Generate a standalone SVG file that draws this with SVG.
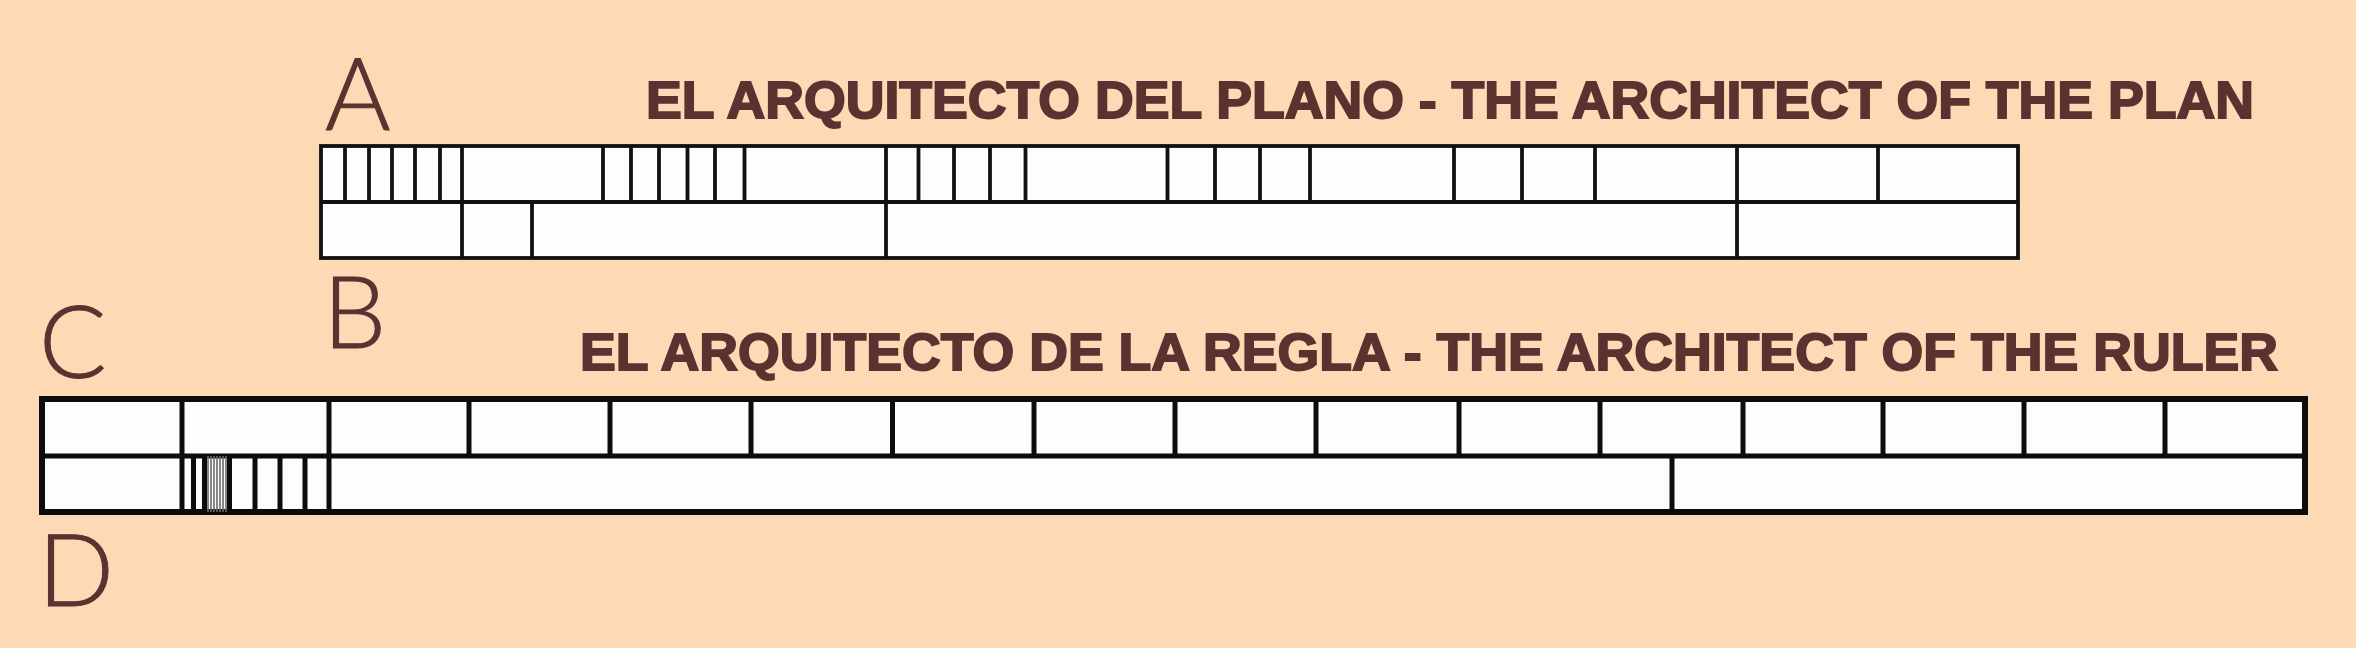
<svg xmlns="http://www.w3.org/2000/svg" width="2356" height="648" viewBox="0 0 2356 648">
<style>
.bg{fill:#FDD9B5}
.box{fill:#FDFDFD;stroke:#111;stroke-width:3.8}
.box2{fill:#FDFDFD;stroke:#0c0c0c;stroke-width:6}
.t{stroke:#111;stroke-width:3.8}
.b{stroke:#0c0c0c;stroke-width:5}
.g{stroke:#6a6a6a;stroke-width:1.6}
.title{font-family:"Liberation Sans",Arial,sans-serif;font-weight:bold;font-size:51px;fill:#5E3131;stroke:#5E3131;stroke-width:1.8}
.letter{font-family:Lato,"DejaVu Sans",sans-serif;font-weight:300;font-size:100px;fill:#5E3131;stroke:#5E3131;stroke-width:1}
</style>
<rect class="bg" x="0" y="0" width="2356" height="648"/>

<g id="title-plan"><text class="title" x="646" y="118" textLength="1608" lengthAdjust="spacingAndGlyphs">EL ARQUITECTO DEL PLANO - THE ARCHITECT OF THE PLAN</text></g>
<g id="title-ruler"><text class="title" x="580" y="370" textLength="1698" lengthAdjust="spacingAndGlyphs">EL ARQUITECTO DE LA REGLA - THE ARCHITECT OF THE RULER</text></g>

<g id="label-A"><text class="letter" x="325" y="130">A</text></g>
<g id="label-B"><text class="letter" x="323" y="348">B</text></g>
<g id="label-C"><text class="letter" x="39" y="378">C</text></g>
<g id="label-D"><text class="letter" x="38" y="606">D</text></g>

<g id="ruler-plan">
<rect class="box" x="321" y="146" width="1697" height="112"/>
<line class="t" x1="321" y1="202" x2="2018" y2="202"/>
<g id="plan-top-row">
<path class="t" d="M345 146V202M369 146V202M392 146V202M415 146V202M440 146V202M462 146V202
M603 146V202M631 146V202M659 146V202M687.5 146V202M715 146V202M744.5 146V202
M886 146V202M918.5 146V202M954 146V202M990 146V202M1025.5 146V202
M1167.5 146V202M1215 146V202M1260 146V202M1310 146V202
M1454 146V202M1522 146V202M1595 146V202
M1737 146V202M1878 146V202"/>
</g>
<g id="plan-bottom-row">
<path class="t" d="M462 202V258M532 202V258M886 202V258M1737 202V258"/>
</g>
</g>

<g id="ruler-rule">
<rect class="box2" x="42" y="399" width="2263" height="113"/>
<line class="b" x1="42" y1="456" x2="2305" y2="456"/>
<g id="rule-top-row">
<path class="b" d="M182 399V456M329 399V456M469 399V456M610 399V456M751 399V456M892.5 399V456M1034 399V456M1175 399V456M1316 399V456M1459 399V456M1600 399V456M1743 399V456M1883 399V456M2024 399V456M2165 399V456"/>
</g>
<g id="rule-bottom-row">
<path class="b" d="M182 456V512M193.5 456V512M204.5 456V512M229.5 456V512M255 456V512M280 456V512M305 456V512M329 456V512M1672 456V512"/>
<path class="g" d="M208 456V512M211 456V512M214 456V512M217 456V512M220 456V512M223 456V512M226 456V512"/>
</g>
</g>
</svg>
